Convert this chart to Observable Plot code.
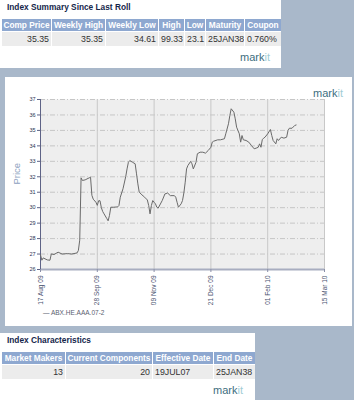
<!DOCTYPE html>
<html><head><meta charset="utf-8">
<script src="https://cdn.jsdelivr.net/npm/d3@7"></script>
<script src="https://cdn.jsdelivr.net/npm/@observablehq/plot@0.6"></script>
<style>
body{margin:0;background:#a9b8ca;width:354px;height:400px;overflow:hidden;font-family:"Liberation Sans",Arial,sans-serif;position:relative}
.panel{position:absolute;background:#fff}
.title{position:absolute;font-weight:bold;font-size:8.3px;color:#14264a;white-space:nowrap}
.cell{position:absolute;box-sizing:border-box;white-space:nowrap;overflow:hidden;line-height:1}
.hd{background:#8ea8d0;color:#fff;font-weight:bold;font-size:8.3px;text-align:center;display:flex;align-items:center;justify-content:center}
.dv{background:#ececec;color:#333;font-size:8.8px;display:flex;align-items:center;padding:0 2px}
.logo{position:absolute;font-size:11px;letter-spacing:0px;white-space:nowrap}
.logo .a{color:#3d6e80}.logo .b{color:#9fcdd5}
.legend{position:absolute;font-size:6.5px;color:#5a6070;white-space:nowrap}
</style>
</head><body>
<div class="panel" style="left:0;top:0;width:281px;height:68px" id="toppanel"></div>
<div class="panel" style="left:5px;top:77px;width:347px;height:249px" id="chartpanel"></div>
<div class="panel" style="left:0;top:333px;width:255px;height:67px" id="bottompanel"></div>
<script>
const summaryTitle = "Index Summary Since Last Roll";
const summaryHeaders = ["Comp Price","Weekly High","Weekly Low","High","Low","Maturity","Coupon"];
const summaryValues = ["35.35","35.35","34.61","99.33","23.1","25JAN38","0.760%"];
const charTitle = "Index Characteristics";
const charHeaders = ["Market Makers","Current Components","Effective Date","End Date"];
const charValues = ["13","20","19JUL07","25JAN38"];
const seriesName = "ABX.HE.AAA.07-2";
const yLabel = "Price";
const yTicks = [26,27,28,29,30,31,32,33,34,35,36,37];
const xTicks = ["2009-08-17","2009-09-28","2009-11-09","2009-12-21","2010-02-01","2010-03-15"];
const dates = ["2009-08-17","2009-08-18","2009-08-19","2009-08-22","2009-08-24","2009-08-25","2009-08-27","2009-08-30","2009-09-02","2009-09-06","2009-09-09","2009-09-13","2009-09-14","2009-09-15","2009-09-16","2009-09-17","2009-09-19","2009-09-22","2009-09-23","2009-09-24","2009-09-25","2009-09-27","2009-09-28","2009-09-29","2009-09-30","2009-10-01","2009-10-02","2009-10-03","2009-10-05","2009-10-06","2009-10-07","2009-10-08","2009-10-10","2009-10-13","2009-10-14","2009-10-15","2009-10-17","2009-10-19","2009-10-20","2009-10-21","2009-10-22","2009-10-24","2009-10-26","2009-10-27","2009-10-28","2009-10-29","2009-10-31","2009-11-02","2009-11-04","2009-11-05","2009-11-06","2009-11-07","2009-11-08","2009-11-09","2009-11-10","2009-11-11","2009-11-12","2009-11-15","2009-11-17","2009-11-19","2009-11-21","2009-11-24","2009-11-25","2009-11-26","2009-11-27","2009-11-29","2009-11-30","2009-12-01","2009-12-02","2009-12-03","2009-12-04","2009-12-06","2009-12-07","2009-12-08","2009-12-10","2009-12-11","2009-12-13","2009-12-15","2009-12-17","2009-12-19","2009-12-21","2009-12-22","2009-12-23","2009-12-26","2009-12-28","2009-12-31","2010-01-01","2010-01-03","2010-01-04","2010-01-05","2010-01-07","2010-01-08","2010-01-09","2010-01-11","2010-01-12","2010-01-13","2010-01-14","2010-01-16","2010-01-18","2010-01-20","2010-01-22","2010-01-24","2010-01-25","2010-01-26","2010-01-27","2010-01-28","2010-01-29","2010-01-30","2010-02-01","2010-02-03","2010-02-04","2010-02-05","2010-02-07","2010-02-08","2010-02-09","2010-02-11","2010-02-13","2010-02-15","2010-02-16","2010-02-17","2010-02-19","2010-02-21","2010-02-22"];
const prices = [26.95,26.6,26.75,26.62,26.6,27.01,26.97,27.12,27.0,27.03,27.0,27.07,27.23,27.9,31.93,31.76,31.8,31.93,31.97,30.8,30.55,30.35,30.15,30.45,30.45,30.0,29.75,29.6,29.3,29.15,29.5,30.03,30.03,30.05,30.14,30.68,31.22,32.0,32.51,32.94,33.05,32.94,32.84,32.19,31.54,31.0,30.83,30.68,30.5,30.14,29.6,30.14,30.46,30.35,30.25,30.03,29.97,30.46,30.89,30.95,30.78,30.78,30.68,30.35,30.03,30.25,30.46,30.95,31.65,32.51,32.73,32.99,32.84,32.51,32.94,33.49,33.59,33.59,33.53,33.7,33.91,34.24,34.3,34.39,34.39,34.46,34.78,35.43,35.96,36.4,36.18,35.75,35.21,34.78,34.24,34.67,34.39,34.35,34.24,34.02,33.81,33.87,33.91,34.13,33.91,34.4,34.5,34.56,34.78,35.06,34.67,34.35,34.13,34.46,34.35,34.56,34.5,34.56,34.99,35.14,35.14,35.32,35.35];

function el(parent, cls, style, html){const d=document.createElement("div");d.className=cls;d.style.cssText=style;d.innerHTML=html;parent.appendChild(d);return d;}
function logo(parent, x, y){el(parent,"logo",`left:${x}px;top:${y}px`,'<span class="a">mark</span><span class="b">it</span>');}
function table(parent, title, headers, values, bounds, align){
  el(parent,"title","left:7px;top:2px",title);
  headers.forEach((h,i)=>{
    const x=bounds[i], w=bounds[i+1]-bounds[i]-1;
    el(parent,"cell hd",`left:${x}px;top:19px;width:${w}px;height:12px`,h);
    el(parent,"cell dv",`left:${x}px;top:32px;width:${w}px;height:14px;justify-content:${align[i]}`,values[i]);
  });
}
const topPanel = document.getElementById("toppanel");
table(topPanel, summaryTitle, summaryHeaders, summaryValues, [2,52,106,159,185,206,245,282],
  ["flex-end","flex-end","flex-end","flex-start","flex-start","flex-start","flex-start"]);
logo(topPanel, 240, 51);
const bottomPanel = document.getElementById("bottompanel");
table(bottomPanel, charTitle, charHeaders, charValues, [2,66,153,214,256],
  ["flex-end","flex-end","flex-start","flex-start"]);
logo(bottomPanel, 213, 51);

const chartPanel = document.getElementById("chartpanel");
const parse = d3.utcParse("%Y-%m-%d");
const data = dates.map((d,i)=>({date: parse(d), price: prices[i]}));
const xTickDates = xTicks.map(parse);
const plot = Plot.plot({
  width: 347, height: 230,
  marginLeft: 35, marginRight: 28, marginTop: 22, marginBottom: 38,
  style: {fontFamily: "'Liberation Sans', Arial, sans-serif", background: "transparent", color: "#3a4260", overflow: "visible"},
  x: {type: "utc", domain: [xTickDates[0], xTickDates[xTickDates.length-1]]},
  y: {domain: [26, 37]},
  marks: [
    Plot.frame({fill: "#eeeeee", stroke: "none"}),
    Plot.gridY(yTicks, {stroke: "#c6c6c6", strokeOpacity: 1, strokeDasharray: "5,2,1,2"}),
    Plot.gridX(xTickDates, {stroke: "#c8c8c8", strokeOpacity: 1}),
    Plot.ruleY([26], {stroke: "#a8adc0", strokeWidth: 2}),
    Plot.ruleX([xTickDates[0]], {stroke: "#5e6386"}),
    Plot.axisY(yTicks, {tickSize: 3, tickPadding: 2, fontSize: 5.5, label: null, stroke: "#5e6386", fill: "#2d3352"}),
    Plot.axisX(xTickDates, {tickRotate: -90, tickFormat: d3.utcFormat("%d %b %y"), tickSize: 3, tickPadding: 3, fontSize: 6.5, label: null, stroke: "#8a8fa8", fill: "#4a5270"}),
    Plot.text([yLabel], {frameAnchor: "left", rotate: -90, dx: -24, fontSize: 9.5, fill: "#8d9fc0"}),
    Plot.lineY(data, {x: "date", y: "price", stroke: "#6a6a6a", strokeWidth: 1})
  ]
});
plot.style.position = "absolute"; plot.style.left = "0"; plot.style.top = "0";
chartPanel.appendChild(plot);
logo(chartPanel, 308, 10);
el(chartPanel, "legend", "left:38px;top:232px", "— " + seriesName);
</script>
</body></html>
